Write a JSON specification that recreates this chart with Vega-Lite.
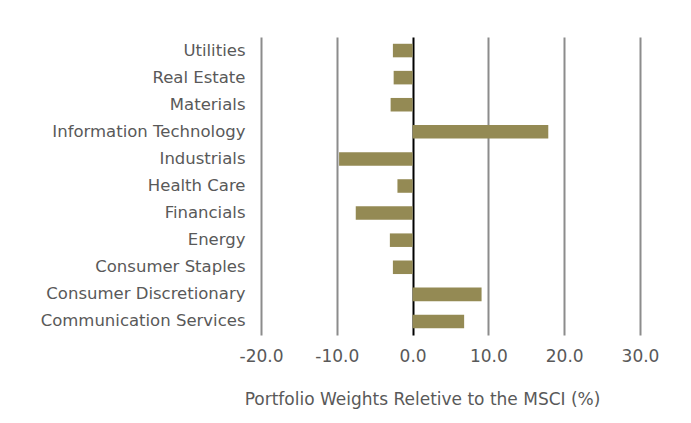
{
  "$schema": "https://vega.github.io/schema/vega-lite/v6.json",
  "autosize": "none",
  "width": 379,
  "height": 298,
  "padding": {"left": 261, "top": 37, "right": 51, "bottom": 88},
  "background": "white",
  "config": {"view": {"stroke": null}, "font": "DejaVu Sans"},
  "data": {"values": [
    {"sector": "Utilities", "weight": -2.6},
    {"sector": "Real Estate", "weight": -2.5},
    {"sector": "Materials", "weight": -2.9},
    {"sector": "Information Technology", "weight": 17.9},
    {"sector": "Industrials", "weight": -9.7},
    {"sector": "Health Care", "weight": -2.0},
    {"sector": "Financials", "weight": -7.5},
    {"sector": "Energy", "weight": -3.0},
    {"sector": "Consumer Staples", "weight": -2.6},
    {"sector": "Consumer Discretionary", "weight": 9.1},
    {"sector": "Communication Services", "weight": 6.8}
  ]},
  "mark": {"type": "bar", "color": "#948a54"},
  "encoding": {
    "y": {"field": "sector", "type": "nominal", "sort": null,
      "scale": {"paddingInner": 0.5, "paddingOuter": 0.25},
      "axis": {"title": null, "domain": false, "ticks": false, "grid": false,
        "labelPadding": 16, "labelFontSize": 16.5, "labelColor": "#595959", "labelFont": "DejaVu Sans", "labelLimit": 300}},
    "x": {"field": "weight", "type": "quantitative",
      "scale": {"domain": [-20, 30], "nice": false},
      "axis": {"values": [-20, -10, 0, 10, 20, 30],
        "labelExpr": "(datum.value < 0 ? '-' : '') + format(abs(datum.value), '.1f')",
        "labelFlush": false,
        "title": "Portfolio Weights Reletive to the MSCI (%)",
        "titleFontSize": 17, "titleFontWeight": "normal", "titleColor": "#595959", "titlePadding": 27,
        "titleX": 161, "titleAlign": "center", "titleAnchor": null,
        "labelFontSize": 17, "labelColor": "#595959", "labelPadding": 13,
        "domain": false, "ticks": false, "grid": true, "gridWidth": 2,
        "gridColor": {"condition": {"test": "datum.value === 0", "value": "#000000"}, "value": "#8c8c8c"}}}
  }
}
